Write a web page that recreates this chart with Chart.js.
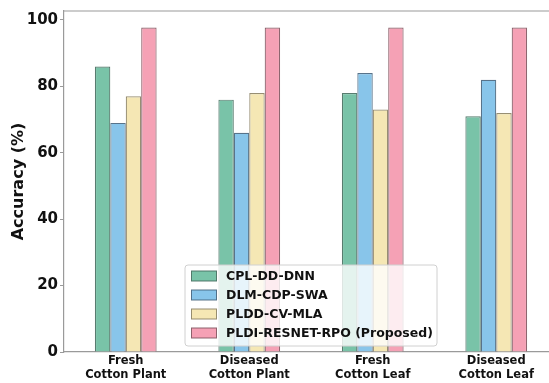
<!DOCTYPE html>
<html><head><meta charset="utf-8">
<script src="https://cdn.jsdelivr.net/npm/chart.js@4/dist/chart.umd.min.js"></script>
<style>html,body{margin:0;padding:0;background:#fff;overflow:hidden;width:549px;height:383px}
#wrap{position:absolute;left:0;top:0;width:560px;height:383px}</style>
</head><body><div id="wrap"><canvas id="c" width="560" height="383"></canvas></div>
<script>
const categories = [['Fresh','Cotton Plant'],['Diseased','Cotton Plant'],['Fresh','Cotton Leaf'],['Diseased','Cotton Leaf']];
const seriesNames = ['CPL-DD-DNN','DLM-CDP-SWA','PLDD-CV-MLA','PLDI-RESNET-RPO (Proposed)'];
const cplDdDnn = [86, 76, 78, 71];
const dlmCdpSwa = [69, 66, 84, 82];
const plddCvMla = [77, 78, 73, 72];
const pldiResnetRpo = [97.7, 97.7, 97.7, 97.7];
const yTicks = [0, 20, 40, 60, 80, 100];

const fills = ['rgb(121,195,168)','rgb(136,197,234)','rgb(245,231,180)','rgb(245,161,181)'];
const edges = ['rgba(70,110,95,0.9)','rgba(70,100,125,0.9)','rgba(140,130,100,0.9)','rgba(130,85,95,0.9)'];
const values = [cplDdDnn, dlmCdpSwa, plddCvMla, pldiResnetRpo];

const legendPlugin = {
  id: 'customLegend',
  afterDraw(chart) {
    const ctx = chart.ctx;
    const x = 185, y = 265, w = 252, h = 81;
    ctx.save();
    ctx.beginPath();
    ctx.roundRect(x, y, w, h, 3);
    ctx.fillStyle = 'rgba(255,255,255,0.8)';
    ctx.fill();
    ctx.strokeStyle = '#d0d0d0';
    ctx.lineWidth = 1;
    ctx.stroke();
    ctx.font = 'bold 12.5px "DejaVu Sans", sans-serif';
    ctx.textBaseline = 'middle';
    chart.data.datasets.forEach((ds, i) => {
      const ry = y + 11 + i * 19;
      ctx.fillStyle = ds.backgroundColor;
      ctx.fillRect(191.5, ry - 5, 25, 10);
      ctx.strokeStyle = ds.borderColor;
      ctx.strokeRect(191.5, ry - 5, 25, 10);
      ctx.fillStyle = '#111';
      ctx.fillText(ds.label, 226, ry + 0.5);
    });
    const a = chart.chartArea;
    ctx.strokeStyle = '#9a9a9a';
    ctx.lineWidth = 1.2;
    ctx.beginPath();
    ctx.moveTo(a.left, a.top); ctx.lineTo(a.right, a.top); ctx.lineTo(a.right, a.bottom);
    ctx.stroke();
    ctx.restore();
  }
};

new Chart(document.getElementById('c'), {
  type: 'bar',
  data: {
    labels: categories,
    datasets: seriesNames.map((n, i) => ({
      label: n, data: values[i], backgroundColor: fills[i], borderColor: edges[i], borderWidth: 1.2,
      barPercentage: 1.0, categoryPercentage: 0.5
    }))
  },
  options: {
    responsive: false, animation: false,
    layout: { padding: { top: 9, right: 2, left: 0, bottom: 0 } },
    plugins: { legend: { display: false }, tooltip: { enabled: false } },
    scales: {
      x: {
        grid: { display: false, drawTicks: false },
        border: { color: '#9a9a9a', width: 1.2 },
        ticks: { color: '#111', font: { family: '"DejaVu Sans", sans-serif', weight: 'bold', size: 11.5, lineHeight: 1.2 }, padding: 2, maxRotation: 0 },
        afterFit: s => { s.height = 31; }
      },
      y: {
        min: 0, max: 102.7,
        afterBuildTicks: s => { s.ticks = yTicks.map(v => ({ value: v })); },
        grid: { display: true, drawOnChartArea: false, tickLength: 4, color: '#9a9a9a' },
        border: { color: '#9a9a9a', width: 1.2 },
        ticks: { color: '#111', font: { family: '"DejaVu Sans", sans-serif', weight: 'bold', size: 15 }, padding: 2 },
        title: { display: true, text: 'Accuracy (%)', color: '#111', font: { family: '"DejaVu Sans", sans-serif', weight: 'bold', size: 16 }, padding: { top: 9, bottom: 0 } },
        afterFit: s => { s.width = 64; }
      }
    }
  },
  plugins: [legendPlugin]
});
</script></body></html>
